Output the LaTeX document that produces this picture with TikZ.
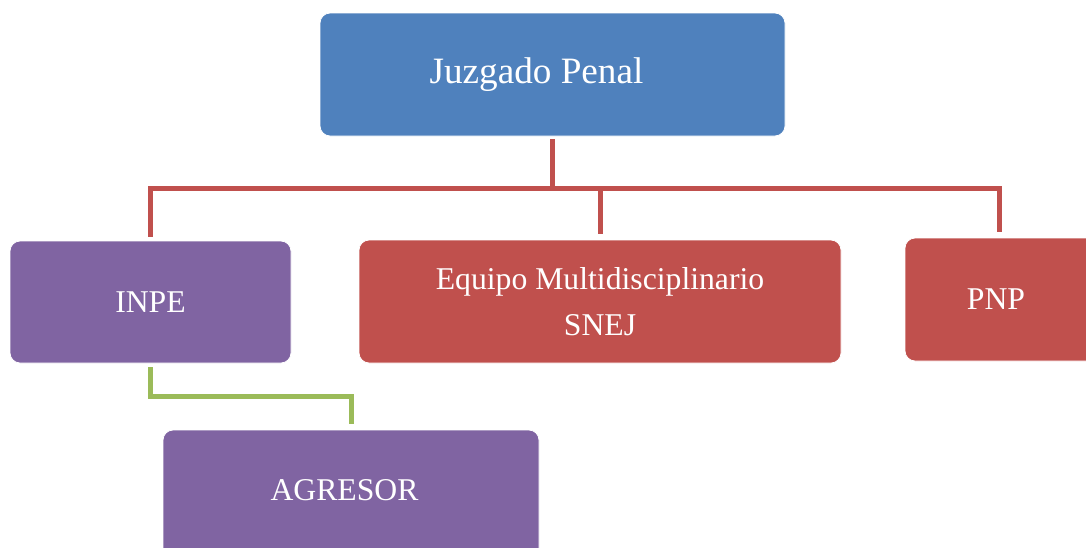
\documentclass[tikz,border=0pt]{standalone}
\usepackage{fontspec}
\setmainfont{Liberation Serif}
\definecolor{boxblue}{HTML}{4F81BD}
\definecolor{boxpurple}{HTML}{8064A2}
\definecolor{boxred}{HTML}{C0504D}
\definecolor{linegreen}{HTML}{9BBB59}
\begin{document}
\begin{tikzpicture}[x=1pt,y=-1pt,
  orgbox/.style={rectangle, rounded corners=10pt, draw=white, line width=0.8pt,
    text=white, align=center, inner sep=0pt},
  topfont/.style={font=\fontsize{37.2}{44}\selectfont},
  subfont/.style={font=\fontsize{31.7}{46}\selectfont},
  redlink/.style={draw=boxred, line width=5pt},
  greenlink/.style={draw=linegreen, line width=5pt}]
\useasboundingbox (0,0) rectangle (1086,547);
\clip (0,0) rectangle (1086,547);
\node[orgbox, topfont, fill=boxblue, minimum width=465, minimum height=123]
  (jp) at (552.5,74.5) {\hspace*{-32pt}Juzgado Penal};
\node[orgbox, subfont, fill=boxpurple, minimum width=281, minimum height=122]
  (inpe) at (150.5,302) {INPE};
\node[orgbox, subfont, fill=boxred, minimum width=482, minimum height=123]
  (sn) at (600,301.5) {Equipo Multidisciplinario\\SNEJ};
\node[orgbox, subfont, fill=boxred, minimum width=200, minimum height=123]
  (pnp) at (1005,299.5) {\hspace*{-18pt}PNP};
\node[orgbox, subfont, fill=boxpurple, minimum width=376, minimum height=134]
  (ag) at (351,497) {\hspace*{-13pt}\raisebox{14pt}{AGRESOR}};
% connectors
\draw[redlink, shorten <=3pt] (jp.south) -- ++(0,52) coordinate (bus);
\draw[redlink, shorten >=4pt] (bus) -| (inpe.north);
\draw[redlink, shorten >=6pt] (bus) -| (sn.north);
\draw[redlink, shorten >=6pt] (bus) -| ([xshift=-6pt]pnp.north);
\draw[greenlink, shorten <=4pt, shorten >=6pt] (inpe.south) -- ++(0,33) -| (ag.north);
\end{tikzpicture}
\end{document}
